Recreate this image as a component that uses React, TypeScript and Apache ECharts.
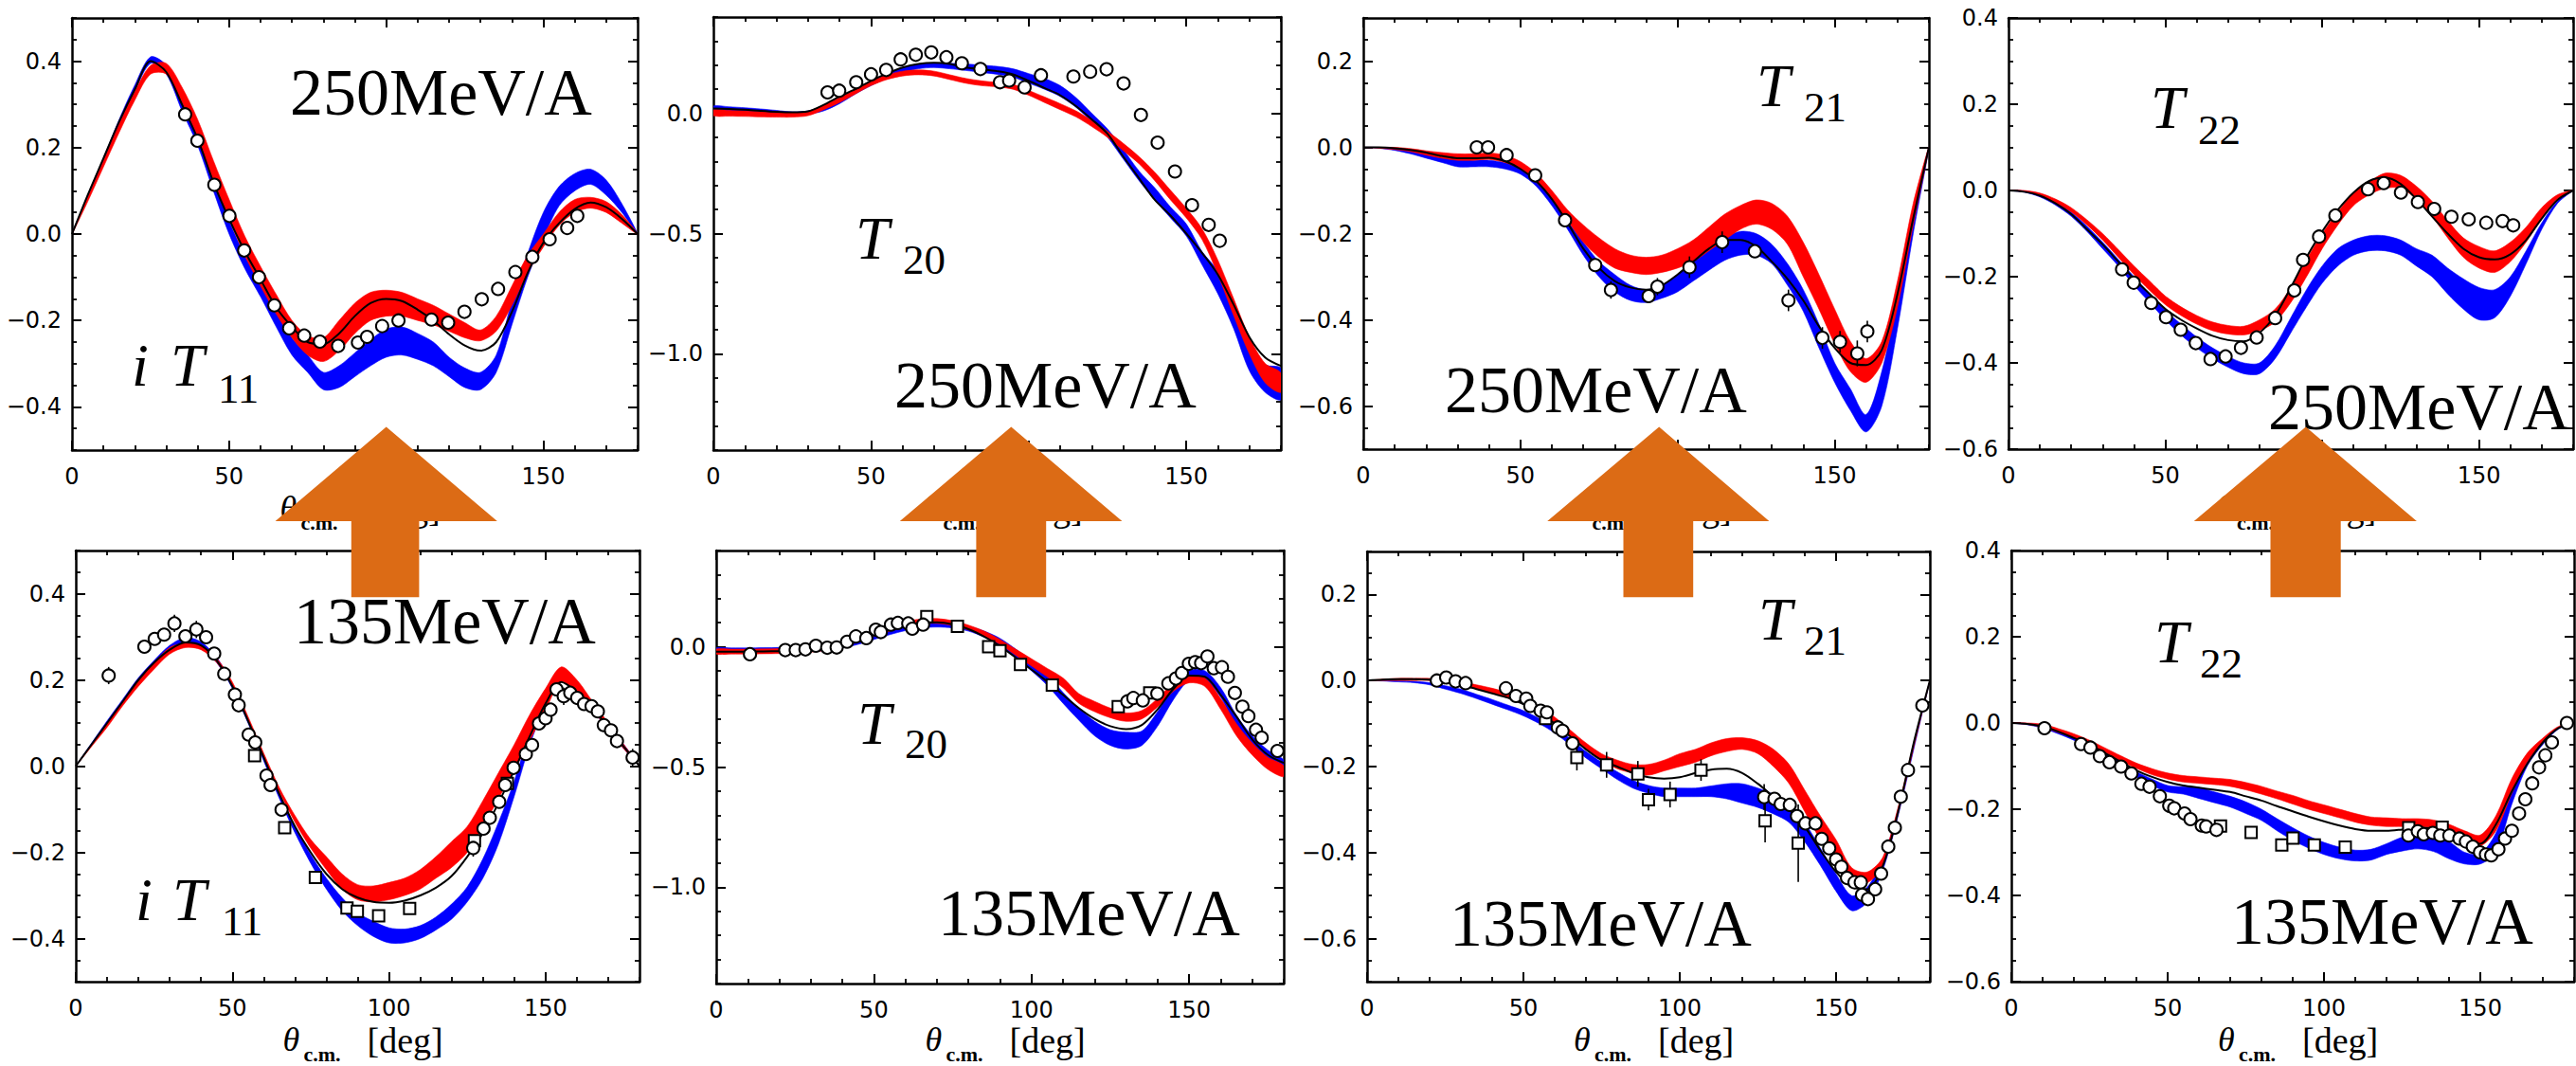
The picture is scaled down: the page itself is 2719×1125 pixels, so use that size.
import React, { useEffect, useRef } from "react";
import * as echarts from "echarts";

// ---------- shared grid & tick labels ----------
const theta = [0, 5, 10, 15, 20, 25, 30, 35, 40, 45, 50, 55, 60, 65, 70, 75, 80, 85, 90, 95, 100, 105, 110, 115, 120, 125, 130, 135, 140, 145, 150, 155, 160, 165, 170, 175, 180];
const xTicks = [0, 50, 100, 150];
const yTicksT11 = [-0.4, -0.2, 0, 0.2, 0.4];
const yTicksT20 = [-1.0, -0.5, 0];
const yTicksT21 = [-0.6, -0.4, -0.2, 0, 0.2];
const yTicksT22 = [-0.6, -0.4, -0.2, 0, 0.2, 0.4];
const energies = ["250MeV/A", "250MeV/A", "250MeV/A", "250MeV/A", "135MeV/A", "135MeV/A", "135MeV/A", "135MeV/A"];
const subscripts = ["11", "20", "21", "22", "11", "20", "21", "22"];

// ---------- panel 1: iT11, 250 MeV/A ----------
const p1Black = [0, 0.09, 0.175, 0.26, 0.335, 0.4, 0.375, 0.3, 0.22, 0.12, 0.035, -0.04, -0.105, -0.17, -0.215, -0.25, -0.255, -0.23, -0.19, -0.16, -0.15, -0.155, -0.175, -0.2, -0.232, -0.258, -0.27, -0.25, -0.18, -0.09, -0.02, 0.025, 0.058, 0.073, 0.062, 0.035, 0];
const p1RedLo = [0, 0.075, 0.155, 0.235, 0.31, 0.37, 0.37, 0.305, 0.225, 0.125, 0.035, -0.05, -0.12, -0.185, -0.24, -0.28, -0.295, -0.27, -0.23, -0.2, -0.19, -0.19, -0.2, -0.21, -0.225, -0.24, -0.247, -0.225, -0.165, -0.09, -0.03, 0.02, 0.05, 0.06, 0.05, 0.025, 0];
const p1RedHi = [0, 0.085, 0.17, 0.255, 0.33, 0.39, 0.395, 0.34, 0.265, 0.17, 0.08, -0.005, -0.075, -0.14, -0.2, -0.235, -0.24, -0.2, -0.16, -0.135, -0.13, -0.135, -0.15, -0.165, -0.185, -0.205, -0.222, -0.19, -0.12, -0.05, 0, 0.05, 0.08, 0.085, 0.075, 0.045, 0];
const p1BlueLo = [0, 0.085, 0.165, 0.25, 0.33, 0.395, 0.37, 0.285, 0.205, 0.1, 0, -0.08, -0.145, -0.215, -0.28, -0.32, -0.36, -0.355, -0.33, -0.305, -0.285, -0.28, -0.29, -0.305, -0.33, -0.355, -0.36, -0.32, -0.21, -0.1, -0.01, 0.065, 0.1, 0.115, 0.09, 0.05, 0];
const p1BlueHi = [0, 0.09, 0.175, 0.265, 0.345, 0.41, 0.39, 0.305, 0.23, 0.125, 0.03, -0.05, -0.115, -0.18, -0.24, -0.28, -0.32, -0.305, -0.275, -0.245, -0.22, -0.215, -0.23, -0.25, -0.285, -0.31, -0.32, -0.28, -0.155, -0.045, 0.05, 0.11, 0.14, 0.15, 0.125, 0.07, 0];
const p1Circles = [[36.0, 0.277], [39.9, 0.216], [45.3, 0.114], [50.1, 0.042], [54.8, -0.038], [59.5, -0.1], [64.4, -0.165], [69.1, -0.218], [73.9, -0.235], [78.9, -0.249], [84.7, -0.259], [91.0, -0.251], [93.9, -0.238], [98.7, -0.213], [103.9, -0.2], [114.4, -0.198], [119.7, -0.205], [124.9, -0.18], [130.4, -0.151], [135.6, -0.127], [141.1, -0.088], [146.5, -0.053], [152.0, -0.012], [157.6, 0.014], [160.8, 0.042]];
const p1Squares: number[][] = [];

// ---------- panel 2: T20, 250 MeV/A ----------
const p2Black = [0.02, 0.018, 0.015, 0.01, 0.006, 0.004, 0.008, 0.035, 0.07, 0.1, 0.135, 0.165, 0.19, 0.205, 0.21, 0.205, 0.19, 0.183, 0.175, 0.162, 0.135, 0.105, 0.075, 0.03, -0.025, -0.085, -0.18, -0.27, -0.36, -0.425, -0.5, -0.58, -0.67, -0.795, -0.93, -1.015, -1.05];
const p2RedLo = [-0.01, -0.012, -0.013, -0.015, -0.016, -0.016, -0.01, 0.015, 0.045, 0.08, 0.115, 0.14, 0.155, 0.16, 0.155, 0.14, 0.125, 0.115, 0.11, 0.1, 0.075, 0.045, 0.015, -0.015, -0.055, -0.1, -0.155, -0.21, -0.28, -0.36, -0.435, -0.525, -0.67, -0.84, -1.0, -1.12, -1.16];
const p2RedHi = [0.015, 0.012, 0.01, 0.007, 0.004, 0.003, 0.008, 0.035, 0.065, 0.1, 0.135, 0.16, 0.175, 0.18, 0.175, 0.16, 0.145, 0.135, 0.128, 0.12, 0.095, 0.068, 0.04, 0.01, -0.03, -0.075, -0.125, -0.18, -0.245, -0.32, -0.395, -0.48, -0.61, -0.77, -0.93, -1.04, -1.08];
const p2BlueLo = [0.005, 0.003, 0, -0.003, -0.006, -0.008, -0.004, 0.01, 0.04, 0.08, 0.115, 0.145, 0.17, 0.185, 0.19, 0.185, 0.178, 0.17, 0.162, 0.15, 0.125, 0.1, 0.07, 0.025, -0.035, -0.1, -0.19, -0.28, -0.36, -0.435, -0.51, -0.63, -0.75, -0.895, -1.07, -1.16, -1.19];
const p2BlueHi = [0.03, 0.027, 0.023, 0.018, 0.012, 0.006, 0.01, 0.03, 0.06, 0.1, 0.135, 0.165, 0.19, 0.205, 0.21, 0.208, 0.205, 0.2, 0.195, 0.185, 0.165, 0.145, 0.115, 0.065, 0, -0.065, -0.15, -0.24, -0.31, -0.39, -0.46, -0.575, -0.655, -0.795, -0.96, -1.045, -1.06];
const p2Circles = [[36.2, 0.087], [39.9, 0.094], [45.3, 0.129], [50.0, 0.162], [54.8, 0.18], [59.4, 0.224], [64.2, 0.243], [69.1, 0.253], [73.9, 0.233], [78.8, 0.208], [84.7, 0.184], [90.9, 0.129], [93.8, 0.136], [98.7, 0.108], [103.9, 0.158], [114.2, 0.153], [119.5, 0.173], [124.7, 0.183], [130.1, 0.124], [135.6, -0.007], [140.9, -0.122], [146.4, -0.242], [151.8, -0.382], [157.1, -0.464], [160.6, -0.53]];
const p2Squares: number[][] = [];

// ---------- panel 3: T21, 250 MeV/A ----------
const p3Black = [0, 0, -0.002, -0.006, -0.012, -0.02, -0.025, -0.025, -0.024, -0.032, -0.05, -0.078, -0.12, -0.175, -0.235, -0.28, -0.31, -0.325, -0.33, -0.32, -0.295, -0.265, -0.235, -0.215, -0.215, -0.23, -0.265, -0.305, -0.355, -0.415, -0.465, -0.5, -0.505, -0.47, -0.34, -0.165, 0];
const p3RedLo = [0, -0.002, -0.005, -0.01, -0.018, -0.025, -0.03, -0.03, -0.028, -0.035, -0.05, -0.08, -0.12, -0.17, -0.22, -0.255, -0.28, -0.29, -0.295, -0.29, -0.28, -0.265, -0.24, -0.215, -0.19, -0.178, -0.19, -0.225, -0.3, -0.375, -0.455, -0.52, -0.545, -0.5, -0.37, -0.18, 0];
const p3RedHi = [0, 0, 0, -0.003, -0.008, -0.012, -0.015, -0.015, -0.013, -0.018, -0.033, -0.06, -0.1, -0.145, -0.18, -0.21, -0.235, -0.25, -0.255, -0.25, -0.235, -0.215, -0.185, -0.155, -0.135, -0.122, -0.13, -0.16, -0.22, -0.295, -0.375, -0.45, -0.49, -0.45, -0.31, -0.13, 0];
const p3BlueLo = [0, -0.002, -0.007, -0.015, -0.025, -0.035, -0.045, -0.045, -0.045, -0.05, -0.062, -0.09, -0.135, -0.19, -0.25, -0.3, -0.335, -0.355, -0.36, -0.35, -0.335, -0.31, -0.285, -0.262, -0.25, -0.25, -0.27, -0.32, -0.38, -0.465, -0.545, -0.61, -0.66, -0.6, -0.42, -0.2, 0];
const p3BlueHi = [0, 0, -0.002, -0.006, -0.013, -0.02, -0.028, -0.03, -0.03, -0.035, -0.045, -0.07, -0.115, -0.17, -0.22, -0.265, -0.295, -0.32, -0.33, -0.32, -0.295, -0.265, -0.235, -0.21, -0.195, -0.2, -0.225, -0.27, -0.33, -0.41, -0.5, -0.56, -0.62, -0.52, -0.35, -0.15, 0];
const p3Circles = [[36.1, 0.0, 0.005], [39.7, 0.0, 0.005], [45.6, -0.018, 0.01], [54.7, -0.065, 0.01], [64.2, -0.169, 0.01], [73.8, -0.273, 0.015], [78.8, -0.331, 0.02], [90.8, -0.345, 0.015], [93.6, -0.323, 0.02], [103.8, -0.278, 0.025], [114.2, -0.22, 0.025], [124.6, -0.241, 0.015], [135.3, -0.355, 0.025], [146.1, -0.442, 0.025], [151.7, -0.451, 0.025], [157.2, -0.478, 0.03], [160.4, -0.427, 0.025]];
const p3Squares: number[][] = [];

// ---------- panel 4: T22, 250 MeV/A ----------
const p4Black = [0, -0.003, -0.012, -0.03, -0.055, -0.09, -0.125, -0.165, -0.205, -0.24, -0.275, -0.3, -0.32, -0.337, -0.347, -0.35, -0.33, -0.29, -0.225, -0.155, -0.095, -0.045, -0.005, 0.022, 0.03, 0.015, -0.02, -0.06, -0.1, -0.135, -0.155, -0.16, -0.148, -0.115, -0.065, -0.022, 0];
const p4RedLo = [0, -0.003, -0.012, -0.028, -0.05, -0.08, -0.115, -0.155, -0.195, -0.232, -0.265, -0.29, -0.31, -0.325, -0.333, -0.335, -0.325, -0.305, -0.26, -0.2, -0.135, -0.08, -0.035, -0.01, 0.005, 0.005, -0.02, -0.06, -0.11, -0.155, -0.18, -0.19, -0.165, -0.12, -0.065, -0.02, 0];
const p4RedHi = [0, 0, -0.006, -0.02, -0.04, -0.068, -0.1, -0.137, -0.175, -0.21, -0.245, -0.27, -0.29, -0.305, -0.313, -0.315, -0.3, -0.275, -0.225, -0.16, -0.1, -0.05, -0.005, 0.02, 0.04, 0.035, 0.01, -0.025, -0.07, -0.11, -0.13, -0.14, -0.12, -0.085, -0.04, -0.01, 0];
const p4BlueLo = [0, -0.004, -0.015, -0.034, -0.06, -0.095, -0.135, -0.175, -0.22, -0.26, -0.3, -0.335, -0.365, -0.39, -0.41, -0.425, -0.425, -0.39, -0.33, -0.27, -0.215, -0.175, -0.15, -0.14, -0.14, -0.15, -0.175, -0.2, -0.24, -0.275, -0.3, -0.295, -0.245, -0.17, -0.09, -0.03, 0];
const p4BlueHi = [0, -0.001, -0.008, -0.026, -0.05, -0.083, -0.12, -0.16, -0.2, -0.24, -0.278, -0.31, -0.34, -0.365, -0.385, -0.4, -0.4, -0.36, -0.295, -0.23, -0.175, -0.135, -0.115, -0.105, -0.105, -0.115, -0.135, -0.15, -0.18, -0.205, -0.225, -0.23, -0.2, -0.14, -0.075, -0.025, 0];
const p4Circles = [[36.2, -0.183], [39.9, -0.214], [45.5, -0.261], [50.2, -0.294], [54.9, -0.323], [59.7, -0.354], [64.4, -0.391], [69.2, -0.385], [74.1, -0.365], [79.1, -0.341], [85.0, -0.296], [91.1, -0.232], [93.9, -0.161], [99.0, -0.107], [104.2, -0.058], [114.6, 0.003], [119.6, 0.017], [125.1, -0.005], [130.5, -0.027], [135.7, -0.043], [141.2, -0.061], [146.7, -0.067], [152.3, -0.075], [157.5, -0.071], [160.9, -0.081]];
const p4Squares: number[][] = [];

// ---------- panel 5: iT11, 135 MeV/A ----------
const p5Black = [0, 0.05, 0.1, 0.15, 0.2, 0.24, 0.27, 0.287, 0.28, 0.245, 0.185, 0.105, 0.02, -0.065, -0.14, -0.2, -0.25, -0.285, -0.305, -0.315, -0.317, -0.312, -0.3, -0.282, -0.255, -0.21, -0.155, -0.085, -0.01, 0.07, 0.145, 0.195, 0.172, 0.135, 0.09, 0.045, 0];
const p5RedLo = [0, 0.045, 0.09, 0.14, 0.185, 0.225, 0.26, 0.275, 0.27, 0.24, 0.185, 0.105, 0.02, -0.06, -0.13, -0.19, -0.24, -0.285, -0.31, -0.315, -0.31, -0.3, -0.285, -0.26, -0.235, -0.2, -0.14, -0.075, -0.01, 0.06, 0.13, 0.195, 0.17, 0.13, 0.085, 0.04, 0];
const p5RedHi = [0, 0.05, 0.1, 0.15, 0.2, 0.24, 0.275, 0.285, 0.28, 0.25, 0.195, 0.115, 0.03, -0.05, -0.115, -0.17, -0.21, -0.25, -0.275, -0.278, -0.27, -0.26, -0.24, -0.21, -0.175, -0.14, -0.08, -0.015, 0.05, 0.12, 0.18, 0.23, 0.2, 0.15, 0.1, 0.05, 0];
const p5BlueLo = [0, 0.048, 0.095, 0.145, 0.195, 0.235, 0.27, 0.285, 0.275, 0.24, 0.18, 0.1, 0.012, -0.075, -0.155, -0.225, -0.285, -0.335, -0.37, -0.395, -0.41, -0.41, -0.4, -0.38, -0.355, -0.315, -0.26, -0.18, -0.07, 0.05, 0.14, 0.2, 0.175, 0.13, 0.085, 0.04, 0];
const p5BlueHi = [0, 0.053, 0.105, 0.155, 0.205, 0.245, 0.28, 0.298, 0.288, 0.252, 0.19, 0.11, 0.022, -0.062, -0.14, -0.205, -0.26, -0.305, -0.34, -0.36, -0.375, -0.378, -0.37, -0.35, -0.32, -0.28, -0.215, -0.13, -0.035, 0.08, 0.17, 0.22, 0.195, 0.145, 0.095, 0.05, 0];
const p5Circles = [[10.5, 0.21, 0.02], [21.9, 0.277], [25.2, 0.295], [28.2, 0.305], [31.5, 0.331, 0.02], [35.0, 0.301], [38.5, 0.317, 0.02], [41.6, 0.299, 0.015], [44.2, 0.261], [47.4, 0.214], [50.8, 0.166], [52.0, 0.141], [55.2, 0.073], [57.3, 0.055], [60.9, -0.022], [62.2, -0.044], [65.7, -0.101, 0.015], [126.9, -0.19, 0.02], [130.2, -0.145], [132.2, -0.12], [135.2, -0.083], [137.1, -0.044], [139.8, -0.004], [143.7, 0.028], [145.7, 0.049], [147.9, 0.099], [150.0, 0.111], [151.6, 0.131], [153.5, 0.178], [155.8, 0.162, 0.02], [157.9, 0.17], [160.1, 0.158], [162.3, 0.144], [164.7, 0.139], [166.7, 0.127], [168.6, 0.095], [170.9, 0.083], [172.8, 0.058], [177.8, 0.02, 0.02]];
const p5Squares = [[57.1, 0.024], [66.7, -0.143], [76.5, -0.258], [86.6, -0.329], [89.9, -0.337], [96.7, -0.347], [106.6, -0.33], [127.3, -0.173], [137.8, -0.04]];

// ---------- panel 6: T20, 135 MeV/A ----------
const p6Black = [-0.02, -0.02, -0.02, -0.019, -0.018, -0.016, -0.012, -0.005, 0.01, 0.03, 0.05, 0.07, 0.088, 0.1, 0.102, 0.093, 0.073, 0.042, 0.003, -0.045, -0.095, -0.145, -0.2, -0.255, -0.3, -0.33, -0.342, -0.325, -0.26, -0.175, -0.12, -0.125, -0.2, -0.29, -0.385, -0.45, -0.483];
const p6RedLo = [-0.03, -0.03, -0.03, -0.029, -0.028, -0.025, -0.022, -0.015, 0, 0.02, 0.045, 0.065, 0.085, 0.095, 0.097, 0.088, 0.07, 0.045, 0.01, -0.035, -0.08, -0.125, -0.17, -0.235, -0.27, -0.295, -0.31, -0.3, -0.25, -0.185, -0.15, -0.165, -0.26, -0.37, -0.45, -0.51, -0.54];
const p6RedHi = [-0.01, -0.01, -0.01, -0.009, -0.008, -0.006, -0.003, 0.005, 0.018, 0.04, 0.065, 0.085, 0.105, 0.115, 0.117, 0.108, 0.09, 0.065, 0.03, -0.01, -0.05, -0.09, -0.13, -0.195, -0.227, -0.255, -0.275, -0.265, -0.215, -0.15, -0.12, -0.13, -0.215, -0.32, -0.4, -0.46, -0.495];
const p6BlueLo = [-0.025, -0.025, -0.025, -0.024, -0.023, -0.022, -0.02, -0.015, -0.005, 0.01, 0.03, 0.05, 0.067, 0.078, 0.082, 0.078, 0.065, 0.04, 0.005, -0.045, -0.1, -0.16, -0.235, -0.305, -0.37, -0.41, -0.425, -0.41, -0.33, -0.22, -0.14, -0.14, -0.21, -0.34, -0.42, -0.47, -0.51];
const p6BlueHi = [-0.005, -0.005, -0.005, -0.004, -0.003, -0.002, 0, 0.005, 0.013, 0.028, 0.048, 0.068, 0.085, 0.096, 0.1, 0.096, 0.085, 0.065, 0.035, -0.01, -0.06, -0.115, -0.19, -0.255, -0.31, -0.345, -0.355, -0.35, -0.27, -0.17, -0.1, -0.1, -0.17, -0.285, -0.37, -0.43, -0.47];
const p6Circles = [[10.7, -0.031], [21.9, -0.014], [25.2, -0.014], [28.3, -0.011], [31.6, 0.004], [35.2, -0.004], [38.2, -0.003], [41.5, 0.021], [44.3, 0.043], [47.6, 0.036], [50.6, 0.071], [52.2, 0.061], [55.4, 0.092], [57.6, 0.099], [60.9, 0.097], [62.2, 0.075], [65.6, 0.092], [130.4, -0.227], [132.3, -0.213], [135.3, -0.223], [139.9, -0.195], [143.4, -0.152], [145.8, -0.132], [147.7, -0.109], [149.9, -0.071], [151.9, -0.064], [153.8, -0.068], [155.8, -0.04], [157.8, -0.089], [160.4, -0.085], [162.3, -0.125], [164.5, -0.192], [166.9, -0.249], [168.8, -0.288], [171.2, -0.345], [173.0, -0.378], [178.0, -0.433]];
const p6Squares = [[66.8, 0.125], [76.5, 0.085], [86.4, 0.0], [90.0, -0.017], [96.5, -0.074], [106.6, -0.159], [127.5, -0.249], [137.5, -0.192]];

// ---------- panel 7: T21, 135 MeV/A ----------
const p7Black = [0, 0.002, 0.003, 0.003, 0.002, -0.002, -0.01, -0.02, -0.03, -0.04, -0.055, -0.075, -0.1, -0.13, -0.16, -0.185, -0.2, -0.215, -0.225, -0.228, -0.225, -0.215, -0.207, -0.205, -0.215, -0.24, -0.27, -0.3, -0.34, -0.395, -0.445, -0.48, -0.485, -0.43, -0.3, -0.14, 0];
const p7RedLo = [0, 0, 0, 0, 0, -0.005, -0.01, -0.02, -0.028, -0.04, -0.055, -0.075, -0.1, -0.13, -0.16, -0.185, -0.205, -0.215, -0.22, -0.21, -0.2, -0.19, -0.175, -0.165, -0.16, -0.17, -0.2, -0.24, -0.305, -0.37, -0.42, -0.465, -0.47, -0.43, -0.305, -0.15, 0];
const p7RedHi = [0, 0.003, 0.005, 0.005, 0.005, 0.002, -0.003, -0.01, -0.018, -0.028, -0.042, -0.06, -0.085, -0.115, -0.145, -0.17, -0.185, -0.195, -0.195, -0.185, -0.17, -0.16, -0.145, -0.135, -0.133, -0.14, -0.16, -0.195, -0.255, -0.315, -0.37, -0.435, -0.445, -0.41, -0.29, -0.14, 0];
const p7BlueLo = [0, -0.001, -0.003, -0.005, -0.01, -0.02, -0.03, -0.042, -0.055, -0.068, -0.082, -0.1, -0.122, -0.15, -0.18, -0.205, -0.23, -0.25, -0.262, -0.27, -0.27, -0.27, -0.27, -0.275, -0.285, -0.295, -0.31, -0.33, -0.375, -0.43, -0.49, -0.535, -0.515, -0.44, -0.31, -0.155, 0];
const p7BlueHi = [0, 0.001, 0, -0.002, -0.005, -0.012, -0.02, -0.032, -0.044, -0.057, -0.07, -0.088, -0.108, -0.135, -0.165, -0.19, -0.212, -0.232, -0.244, -0.25, -0.25, -0.25, -0.245, -0.24, -0.24, -0.25, -0.265, -0.285, -0.33, -0.39, -0.45, -0.5, -0.48, -0.415, -0.295, -0.145, 0];
const p7Circles = [[22.3, 0.0], [25.3, 0.007], [28.3, -0.002], [31.5, -0.006], [44.4, -0.018], [47.6, -0.036], [50.9, -0.042], [52.2, -0.059], [55.5, -0.07], [57.5, -0.074], [61.0, -0.109], [62.5, -0.117], [65.7, -0.146, 0.015], [127.0, -0.271, 0.03], [130.3, -0.275], [132.3, -0.287], [135.2, -0.289], [137.5, -0.315], [140.2, -0.332], [143.4, -0.332], [145.4, -0.368], [147.8, -0.39], [150.0, -0.416], [151.7, -0.433], [153.5, -0.459], [155.9, -0.469], [157.9, -0.469, 0.015], [158.3, -0.498], [160.2, -0.508, 0.015], [162.5, -0.485], [164.4, -0.449], [166.7, -0.386], [168.8, -0.342], [170.7, -0.27], [173.0, -0.208], [177.6, -0.058]];
const p7Squares = [[57.1, -0.088, 0.015], [67.1, -0.179, 0.03], [76.6, -0.196, 0.03], [86.6, -0.217, 0.03], [90.0, -0.277, 0.025], [96.9, -0.265, 0.03], [106.8, -0.208, 0.025], [127.3, -0.326, 0.05], [137.9, -0.378, 0.09]];

// ---------- panel 8: T22, 135 MeV/A ----------
const p8Black = [0, -0.002, -0.008, -0.02, -0.035, -0.05, -0.07, -0.09, -0.11, -0.125, -0.137, -0.145, -0.15, -0.155, -0.16, -0.17, -0.18, -0.193, -0.205, -0.217, -0.228, -0.238, -0.246, -0.25, -0.25, -0.247, -0.243, -0.245, -0.255, -0.27, -0.28, -0.235, -0.16, -0.095, -0.045, -0.012, 0];
const p8RedLo = [0, -0.003, -0.01, -0.022, -0.035, -0.05, -0.068, -0.088, -0.105, -0.12, -0.13, -0.137, -0.14, -0.143, -0.147, -0.155, -0.165, -0.176, -0.188, -0.2, -0.21, -0.22, -0.23, -0.237, -0.24, -0.24, -0.24, -0.243, -0.255, -0.27, -0.285, -0.25, -0.165, -0.09, -0.045, -0.012, 0];
const p8RedHi = [0, 0, -0.003, -0.013, -0.025, -0.04, -0.058, -0.076, -0.093, -0.106, -0.116, -0.122, -0.125, -0.128, -0.131, -0.138, -0.147, -0.158, -0.168, -0.18, -0.19, -0.2, -0.21, -0.218, -0.22, -0.222, -0.222, -0.225, -0.235, -0.25, -0.26, -0.215, -0.13, -0.07, -0.035, -0.008, 0];
const p8BlueLo = [0, -0.004, -0.012, -0.025, -0.04, -0.058, -0.08, -0.103, -0.125, -0.145, -0.16, -0.165, -0.175, -0.185, -0.195, -0.21, -0.226, -0.25, -0.272, -0.29, -0.305, -0.315, -0.32, -0.318, -0.305, -0.297, -0.292, -0.298, -0.315, -0.327, -0.327, -0.3, -0.19, -0.1, -0.05, -0.014, 0];
const p8BlueHi = [0, -0.001, -0.005, -0.017, -0.03, -0.048, -0.07, -0.092, -0.113, -0.13, -0.145, -0.148, -0.15, -0.16, -0.17, -0.183, -0.2, -0.222, -0.243, -0.262, -0.277, -0.288, -0.295, -0.293, -0.28, -0.265, -0.258, -0.26, -0.275, -0.3, -0.303, -0.255, -0.16, -0.08, -0.04, -0.01, 0];
const p8Circles = [[10.6, -0.012], [22.3, -0.049], [25.3, -0.057], [28.3, -0.077], [31.4, -0.091], [35.1, -0.101], [38.4, -0.117], [41.6, -0.141], [44.2, -0.148], [47.5, -0.17], [50.5, -0.192], [52.1, -0.198], [55.4, -0.21], [57.3, -0.223], [60.9, -0.238], [62.3, -0.24], [65.6, -0.248], [127.0, -0.261], [130.0, -0.251], [131.9, -0.258], [134.8, -0.255], [137.2, -0.261], [140.1, -0.261], [143.3, -0.268], [145.4, -0.275], [147.6, -0.287], [149.9, -0.3], [151.8, -0.305], [153.5, -0.307], [155.8, -0.293], [157.9, -0.268], [160.1, -0.25], [162.4, -0.21], [164.4, -0.177], [166.6, -0.14], [168.8, -0.103], [170.8, -0.075], [172.9, -0.045], [177.7, 0.0]];
const p8Squares = [[66.9, -0.239], [76.7, -0.254], [86.5, -0.283], [90.1, -0.267], [96.9, -0.283], [106.8, -0.288], [127.1, -0.243], [137.8, -0.242]];

// ---------- panel assembly ----------
const panels = [
  { black: p1Black, redLo: p1RedLo, redHi: p1RedHi, blueLo: p1BlueLo, blueHi: p1BlueHi, circles: p1Circles, squares: p1Squares, yMin: -0.5, yMax: 0.5, yTicks: yTicksT11, yMinor: 0.05 },
  { black: p2Black, redLo: p2RedLo, redHi: p2RedHi, blueLo: p2BlueLo, blueHi: p2BlueHi, circles: p2Circles, squares: p2Squares, yMin: -1.4, yMax: 0.4, yTicks: yTicksT20, yMinor: 0.1 },
  { black: p3Black, redLo: p3RedLo, redHi: p3RedHi, blueLo: p3BlueLo, blueHi: p3BlueHi, circles: p3Circles, squares: p3Squares, yMin: -0.7, yMax: 0.3, yTicks: yTicksT21, yMinor: 0.05 },
  { black: p4Black, redLo: p4RedLo, redHi: p4RedHi, blueLo: p4BlueLo, blueHi: p4BlueHi, circles: p4Circles, squares: p4Squares, yMin: -0.6, yMax: 0.4, yTicks: yTicksT22, yMinor: 0.05 },
  { black: p5Black, redLo: p5RedLo, redHi: p5RedHi, blueLo: p5BlueLo, blueHi: p5BlueHi, circles: p5Circles, squares: p5Squares, yMin: -0.5, yMax: 0.5, yTicks: yTicksT11, yMinor: 0.05 },
  { black: p6Black, redLo: p6RedLo, redHi: p6RedHi, blueLo: p6BlueLo, blueHi: p6BlueHi, circles: p6Circles, squares: p6Squares, yMin: -1.4, yMax: 0.4, yTicks: yTicksT20, yMinor: 0.1 },
  { black: p7Black, redLo: p7RedLo, redHi: p7RedHi, blueLo: p7BlueLo, blueHi: p7BlueHi, circles: p7Circles, squares: p7Squares, yMin: -0.7, yMax: 0.3, yTicks: yTicksT21, yMinor: 0.05 },
  { black: p8Black, redLo: p8RedLo, redHi: p8RedHi, blueLo: p8BlueLo, blueHi: p8BlueHi, circles: p8Circles, squares: p8Squares, yMin: -0.6, yMax: 0.4, yTicks: yTicksT22, yMinor: 0.05 },
];

// ---------- layout (pixels) ----------
const gridRects = [
  { left: 76, top: 19, width: 597, height: 456 },
  { left: 753, top: 18, width: 599, height: 457 },
  { left: 1439, top: 19, width: 597, height: 455 },
  { left: 2120, top: 19, width: 596, height: 455 },
  { left: 80, top: 581, width: 595, height: 455 },
  { left: 756, top: 581, width: 599, height: 457 },
  { left: 1443, top: 582, width: 594, height: 454 },
  { left: 2123, top: 581, width: 594, height: 455 },
];
const energyPos = [[306, 121.5], [944, 430], [1525, 435.6], [2394, 453.6], [310, 679], [990, 987], [1530, 998], [2355, 996]];
const mathPos: (number | null)[][] = [
  [139, 180, 407, 230, 425],
  [null, 903, 273, 953, 289],
  [null, 1854, 112.5, 1904, 128.5],
  [null, 2270, 135.7, 2320, 152],
  [143, 182, 971, 234, 987],
  [null, 905, 785, 955, 800],
  [null, 1856, 675, 1904, 691.5],
  [null, 2274, 699, 2322, 715],
];
const arrowPos = [
  { tip: 407.7, bl: 290.6, br: 524.8, sl: 370.8, sr: 442.4 },
  { tip: 1067.3, bl: 949.8, br: 1184.4, sl: 1030.4, sr: 1104.2 },
  { tip: 1751.2, bl: 1633.2, br: 1867.4, sl: 1713.5, sr: 1787.2 },
  { tip: 2433.8, bl: 2315.8, br: 2550.9, sl: 2396.5, sr: 2470.7 },
];

const SANS = '"DejaVu Sans", sans-serif';
const SERIF = '"Liberation Serif", "Times New Roman", serif';
const fmtY = (v: number) => (v < -1e-9 ? "\u2212" : "") + Math.abs(v).toFixed(1);

function buildOption() {
  const grid: any[] = [];
  const xAxis: any[] = [];
  const yAxis: any[] = [];
  const series: any[] = [];
  const graphics: any[] = [];

  panels.forEach((p, g) => {
    grid.push({ ...gridRects[g] });
    const xi = xAxis.length;
    const yi = yAxis.length;
    const lineStyle = { color: "#000", width: 2.5 };
    const baseX = {
      type: "value", gridIndex: g, min: 0, max: 180, splitLine: { show: false },
      axisLine: { show: false, onZero: false, lineStyle },
      axisLabel: { show: false },
    };
    const minorTickX = { show: true, inside: true, length: 5, lineStyle: { color: "#000", width: 1.8 } };
    const majorTickX = { show: true, inside: true, length: 10, customValues: xTicks, lineStyle: { color: "#000", width: 2 } };
    xAxis.push({
      ...baseX, position: "bottom", axisLine: { show: true, onZero: false, lineStyle }, axisTick: majorTickX,
      axisLabel: { show: true, customValues: xTicks, formatter: (v: number) => String(v), color: "#000", fontFamily: SANS, fontSize: 24, margin: 16 },
    });
    xAxis.push({ ...baseX, position: "bottom", interval: 10, axisTick: minorTickX });
    xAxis.push({ ...baseX, position: "top", axisLine: { show: true, onZero: false, lineStyle }, axisTick: majorTickX });
    xAxis.push({ ...baseX, position: "top", interval: 10, axisTick: minorTickX });

    const baseY = {
      type: "value", gridIndex: g, min: p.yMin, max: p.yMax, splitLine: { show: false },
      axisLine: { show: false, onZero: false, lineStyle },
      axisLabel: { show: false },
    };
    const minorTickY = { show: true, inside: true, length: 5, lineStyle: { color: "#000", width: 1.8 } };
    const majorTickY = { show: true, inside: true, length: 10, customValues: p.yTicks, lineStyle: { color: "#000", width: 2 } };
    yAxis.push({
      ...baseY, position: "left", axisLine: { show: true, onZero: false, lineStyle }, axisTick: majorTickY,
      axisLabel: { show: true, customValues: p.yTicks, formatter: fmtY, color: "#000", fontFamily: SANS, fontSize: 24, margin: 11 },
    });
    yAxis.push({ ...baseY, position: "left", interval: p.yMinor, axisTick: minorTickY });
    yAxis.push({ ...baseY, position: "right", axisLine: { show: true, onZero: false, lineStyle }, axisTick: majorTickY });
    yAxis.push({ ...baseY, position: "right", interval: p.yMinor, axisTick: minorTickY });

    const common = { xAxisIndex: xi, yAxisIndex: yi, silent: true };
    // band: a closed polygon through the upper edge and back along the lower edge
    const band = (lo: number[], hi: number[], color: string, z: number) => {
      series.push({
        ...common, type: "custom", z, clip: true,
        data: [[90, 0]],
        encode: { x: 0, y: 1 },
        renderItem: (_params: any, api: any) => {
          const pts: number[][] = [];
          for (let i = 0; i < theta.length; i++) pts.push(api.coord([theta[i], hi[i]]));
          for (let i = theta.length - 1; i >= 0; i--) {
            if (Math.abs(hi[i] - lo[i]) < 1e-9 && (i === 0 || i === theta.length - 1)) continue;
            pts.push(api.coord([theta[i], lo[i]]));
          }
          return { type: "polygon", shape: { points: pts, smooth: 0.3 }, style: { fill: color, stroke: color, lineWidth: 0.6 } };
        },
      });
    };
    band(p.blueLo, p.blueHi, "#0000ff", 2);
    band(p.redLo, p.redHi, "#ff0000", 3);
    series.push({
      ...common, type: "line", smooth: 0.3, symbol: "none", z: 4,
      data: theta.map((t, i) => [t, p.black[i]]), lineStyle: { color: "#000", width: 2 },
    });

    const errs = [...p.circles, ...p.squares].filter((d) => d.length > 2 && d[2] > 0);
    if (errs.length) {
      series.push({
        ...common, type: "custom", z: 5, data: errs,
        encode: { x: 0, y: 1 },
        renderItem: (_params: any, api: any) => {
          const x = api.value(0), y = api.value(1), e = api.value(2);
          const a = api.coord([x, y - e]);
          const b = api.coord([x, y + e]);
          return { type: "line", shape: { x1: a[0], y1: a[1], x2: b[0], y2: b[1] }, style: { stroke: "#000", lineWidth: 1.6 } };
        },
      });
    }
    if (p.squares.length) {
      series.push({
        ...common, type: "scatter", z: 6, symbol: "rect", symbolSize: 12,
        data: p.squares.map((d) => [d[0], d[1]]),
        itemStyle: { color: "#fff", borderColor: "#000", borderWidth: 2, opacity: 1 },
      });
    }
    series.push({
      ...common, type: "scatter", z: 7, symbol: "circle", symbolSize: 13,
      data: p.circles.map((d) => [d[0], d[1]]),
      itemStyle: { color: "#fff", borderColor: "#000", borderWidth: 2, opacity: 1 },
    });

    // texts
    const r = gridRects[g];
    const cx = r.left + r.width / 2;
    const shift = g < 4 ? -561 : 0;
    const txt = (x: number, baseline: number, text: string, fontSize: number, extra: any = {}) => ({
      type: "text", x, y: baseline - 0.34 * fontSize, z: 50,
      style: { text, fontSize, fontFamily: SERIF, fill: "#000", align: "left", verticalAlign: "middle", textAlign: "left", textVerticalAlign: "middle", ...extra },
    });
    graphics.push(txt(cx - 79, 1109 + shift, "\u03b8", 36, { fontStyle: "italic" }));
    graphics.push(txt(cx - 57, 1120 + shift, "c.m.", 22, { fontWeight: "bold" }));
    graphics.push(txt(cx + 10, 1111 + shift, "[deg]", 38));
    graphics.push(txt(energyPos[g][0], energyPos[g][1], energies[g], 70));
    const m = mathPos[g];
    if (m[0] !== null) graphics.push(txt(m[0] as number, m[2] as number, "i", 64, { fontStyle: "italic" }));
    graphics.push(txt(m[1] as number, m[2] as number, "T", 64, { fontStyle: "italic" }));
    graphics.push(txt(m[3] as number, m[4] as number, subscripts[g], 45));
  });

  const tipY = 450.6, baseY = 550, bottomY = 630.3;
  arrowPos.forEach((a) => {
    graphics.push({
      type: "polygon", z: 100,
      shape: { points: [[a.sl, bottomY], [a.sl, baseY], [a.bl, baseY], [a.tip, tipY], [a.br, baseY], [a.sr, baseY], [a.sr, bottomY]] },
      style: { fill: "#DC6B15" },
    });
  });

  return {
    animation: false,
    backgroundColor: "#ffffff",
    grid, xAxis, yAxis, series,
    graphic: { elements: graphics },
  };
}

export default function App() {
  const ref = useRef<HTMLDivElement>(null);
  useEffect(() => {
    document.body.style.margin = "0";
    document.body.style.overflow = "hidden";
    const chart = echarts.init(ref.current as HTMLDivElement, undefined, { renderer: "svg" });
    chart.setOption(buildOption() as any);
    return () => chart.dispose();
  }, []);
  return <div ref={ref} style={{ width: 2719, height: 1125 }} />;
}
